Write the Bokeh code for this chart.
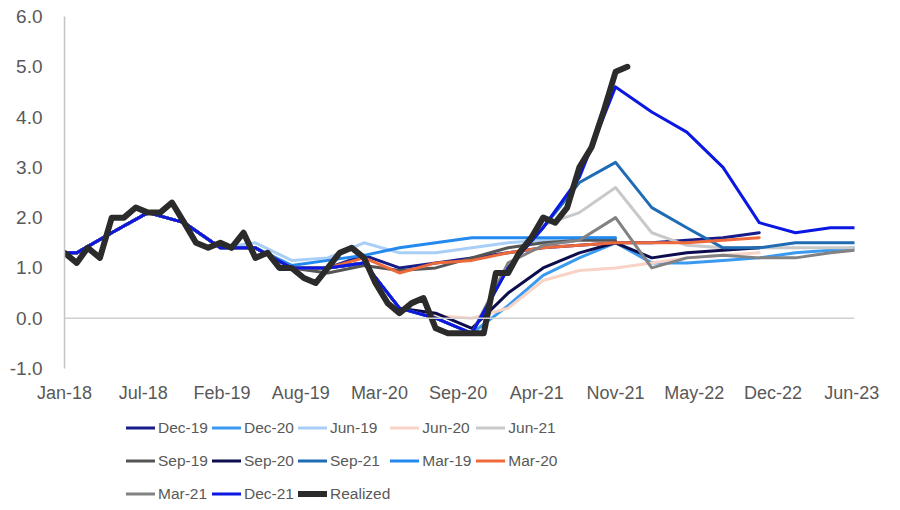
import pandas as pd
from bokeh.plotting import figure
from bokeh.layouts import column
from bokeh.models import Range1d, FixedTicker, PrintfTickFormatter, Span, Legend, LegendItem
from bokeh.embed import file_html
from bokeh.resources import INLINE

N = None

# Projection dates (series start, mid-quarter points, series end)
proj_dates = ["2018-01-01", "2018-02-01", "2018-05-01", "2018-08-01", "2018-11-01",
              "2019-02-01", "2019-05-01", "2019-08-01", "2019-11-01",
              "2020-02-01", "2020-05-01", "2020-08-01", "2020-11-01",
              "2021-02-01", "2021-05-01", "2021-08-01", "2021-11-01",
              "2022-02-01", "2022-05-01", "2022-08-01", "2022-11-01",
              "2023-02-01", "2023-05-01", "2023-07-01"]

dec19 = [1.3, 1.3, 1.7, 2.1, 1.9, 1.4, 1.4, 1.0, 1.0, 1.25, 1.0, 1.1, 1.2, 1.3, 1.4, 1.45, 1.5, 1.5, 1.55, 1.6, 1.7, N, N, N]
dec20 = [1.3, 1.3, 1.7, 2.1, 1.9, 1.4, 1.4, 1.0, 1.0, 1.1, 0.2, 0.0, -0.3, 0.25, 0.85, 1.2, 1.5, 1.1, 1.1, 1.15, 1.2, 1.3, 1.35, 1.4]
jun19 = [1.3, 1.3, 1.7, 2.1, 1.9, 1.4, 1.5, 1.15, 1.2, 1.5, 1.3, 1.3, 1.4, 1.5, 1.55, 1.6, 1.6, N, N, N, N, N, N, N]
jun20 = [1.3, 1.3, 1.7, 2.1, 1.9, 1.4, 1.4, 1.0, 1.0, 1.1, 0.2, 0.05, 0.0, 0.2, 0.75, 0.95, 1.0, 1.1, 1.2, 1.25, 1.3, N, N, N]
jun21 = [1.3, 1.3, 1.7, 2.1, 1.9, 1.4, 1.4, 1.0, 1.0, 1.1, 0.2, 0.0, -0.3, 1.0, 1.85, 2.1, 2.6, 1.7, 1.45, 1.4, 1.4, 1.4, 1.4, 1.4]
sep19 = [1.3, 1.3, 1.7, 2.1, 1.9, 1.4, 1.4, 1.0, 0.9, 1.05, 0.95, 1.0, 1.2, 1.4, 1.5, 1.55, 1.55, N, N, N, N, N, N, N]
sep20 = [1.3, 1.3, 1.7, 2.1, 1.9, 1.4, 1.4, 1.0, 1.0, 1.1, 0.2, 0.1, -0.2, 0.5, 1.0, 1.3, 1.5, 1.2, 1.3, 1.35, 1.4, N, N, N]
sep21 = [1.3, 1.3, 1.7, 2.1, 1.9, 1.4, 1.4, 1.0, 1.0, 1.1, 0.2, 0.0, -0.3, 1.0, 1.8, 2.7, 3.1, 2.2, 1.8, 1.4, 1.4, 1.5, 1.5, 1.5]
mar19 = [1.3, 1.3, 1.7, 2.1, 1.9, 1.4, 1.4, 1.05, 1.15, 1.25, 1.4, 1.5, 1.6, 1.6, 1.6, 1.6, 1.6, N, N, N, N, N, N, N]
mar20 = [1.3, 1.3, 1.7, 2.1, 1.9, 1.4, 1.4, 1.0, 1.0, 1.2, 0.9, 1.1, 1.15, 1.3, 1.4, 1.45, 1.5, 1.5, 1.5, 1.55, 1.6, N, N, N]
mar21 = [1.3, 1.3, 1.7, 2.1, 1.9, 1.4, 1.4, 1.0, 1.0, 1.1, 0.2, 0.0, -0.3, 1.1, 1.45, 1.55, 2.0, 1.0, 1.2, 1.25, 1.2, 1.2, 1.3, 1.35]
dec21 = [1.3, 1.3, 1.7, 2.1, 1.9, 1.4, 1.4, 1.0, 1.0, 1.1, 0.2, 0.0, -0.3, 1.0, 1.8, 2.8, 4.6, 4.1, 3.7, 3.0, 1.9, 1.7, 1.8, 1.8]

# Realized monthly inflation, Jan-18 .. Dec-21
realized_start = "2018-01-01"
realized = [1.3, 1.1, 1.4, 1.2, 2.0, 2.0, 2.2, 2.1, 2.1, 2.3, 1.9, 1.5,
            1.4, 1.5, 1.4, 1.7, 1.2, 1.3, 1.0, 1.0, 0.8, 0.7, 1.0, 1.3,
            1.4, 1.2, 0.7, 0.3, 0.1, 0.3, 0.4, -0.2, -0.3, -0.3, -0.3, -0.3,
            0.9, 0.9, 1.3, 1.6, 2.0, 1.9, 2.2, 3.0, 3.4, 4.1, 4.9, 5.0]

tick_labels = ["Jan-18", "Jul-18", "Feb-19", "Aug-19", "Mar-20", "Sep-20",
               "Apr-21", "Nov-21", "May-22", "Dec-22", "Jun-23"]
y_ticks = [-1, 0, 1, 2, 3, 4, 5, 6]

series_names = ["Dec-19", "Dec-20", "Jun-19", "Jun-20", "Jun-21", "Sep-19", "Sep-20",
                "Sep-21", "Mar-19", "Mar-20", "Mar-21", "Dec-21"]
series_values = [dec19, dec20, jun19, jun20, jun21, sep19, sep20, sep21, mar19, mar20, mar21, dec21]
series_colors = ["#161C8A", "#3A9AF0", "#A9CFF6", "#F8D3C6", "#C9C9C9", "#555555", "#0D0D4E",
                 "#1F6CB5", "#2389EE", "#EE6A3C", "#828282", "#0B17E2"]

origin = pd.Timestamp("2018-01-01")
proj_x = [(pd.Timestamp(d) - origin).days for d in proj_dates]
real_dates = pd.date_range(realized_start, periods=len(realized), freq="MS")
real_x = [(d - origin).days for d in real_dates]
x_end = (pd.Timestamp("2023-07-01") - origin).days
tick_days = [200 * i for i in range(len(tick_labels))]

FONT = "Liberation Sans"
GREY = "#595959"

p = figure(width=890, height=410, x_range=Range1d(0, x_end), y_range=Range1d(-1, 6),
           output_backend="svg", toolbar_location=None,
           min_border_left=64, min_border_right=36, min_border_top=16, min_border_bottom=42,
           background_fill_color="white", border_fill_color="white", outline_line_color=None)
p.grid.visible = False

p.yaxis.ticker = FixedTicker(ticks=y_ticks)
p.yaxis.formatter = PrintfTickFormatter(format="%.1f")
p.yaxis.axis_line_color = "#C4C4C4"
p.yaxis.axis_line_width = 1.5
p.yaxis.major_tick_line_color = None
p.yaxis.minor_tick_line_color = None
p.yaxis.major_tick_out = 0
p.yaxis.major_tick_in = 0
p.yaxis.major_label_standoff = 22
p.yaxis.major_label_text_font = FONT
p.yaxis.major_label_text_font_size = "19px"
p.yaxis.major_label_text_color = GREY

p.xaxis.ticker = FixedTicker(ticks=tick_days)
p.xaxis.major_label_overrides = dict(zip(tick_days, tick_labels))
p.xaxis.axis_line_color = None
p.xaxis.major_tick_line_color = None
p.xaxis.minor_tick_line_color = None
p.xaxis.major_tick_out = 0
p.xaxis.major_tick_in = 0
p.xaxis.major_label_standoff = 14
p.xaxis.major_label_text_font = FONT
p.xaxis.major_label_text_font_size = "18px"
p.xaxis.major_label_text_color = GREY

p.add_layout(Span(location=0, dimension="width", line_color="#D0D0D0", line_width=1.5))

line_specs = []
for name, vals, col in zip(series_names, series_values, series_colors):
    xs = [x for x, v in zip(proj_x, vals) if v is not None]
    ys = [v for v in vals if v is not None]
    p.line(xs, ys, line_color=col, line_width=3, line_join="round", line_cap="round")
    line_specs.append((name, xs, ys, col, 3))

p.line(real_x, realized, line_color="#2B2B2B", line_width=6, line_join="round", line_cap="round")
line_specs.append(("Realized", real_x, realized, "#2B2B2B", 6))

# Legend panel below the chart: same series, drawn outside this panel's visible range
pl = figure(width=890, height=100, output_backend="svg", toolbar_location=None,
            x_range=Range1d(-1000, -900), y_range=Range1d(-1000, -900),
            x_axis_location=None, y_axis_location=None,
            min_border_left=64, min_border_right=36, min_border_top=0, min_border_bottom=0,
            background_fill_color="white", border_fill_color="white", outline_line_color=None)
pl.grid.visible = False
items = []
for name, xs, ys, col, w in line_specs:
    r = pl.line(xs, ys, line_color=col, line_width=w, line_cap="round")
    items.append(LegendItem(label=name, renderers=[r]))

legend = Legend(items=items, orientation="horizontal", ncols=5, location=(62, 0),
                glyph_width=29, glyph_height=33, label_height=33, label_width=54,
                label_standoff=3, spacing=0, padding=0, margin=0,
                border_line_color=None, background_fill_alpha=0,
                label_text_font=FONT, label_text_font_size="15.5px", label_text_color=GREY)
pl.add_layout(legend, "center")

layout = column(p, pl, spacing=0)
open("out.html", "w").write(file_html(layout, INLINE))
